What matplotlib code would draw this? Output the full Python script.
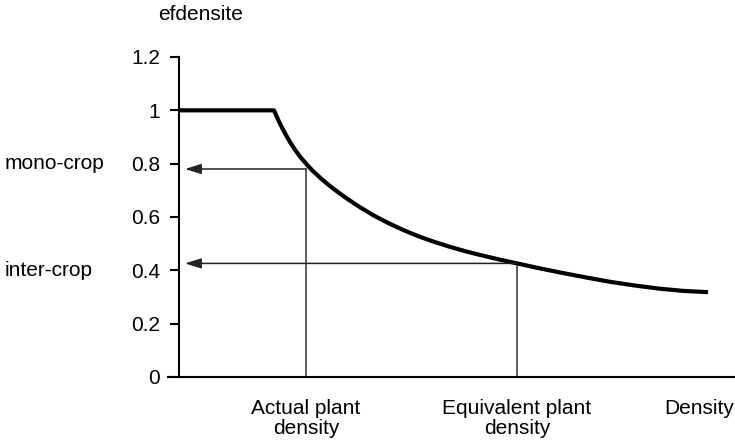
import matplotlib
matplotlib.use('Agg')
import matplotlib.pyplot as plt
import matplotlib.transforms as mtransforms

plt.rcParams['font.family'] = ['Liberation Sans', 'DejaVu Sans']

# efficiency curve read along the density axis (arbitrary density units)
density = [0.0, 0.95, 0.99, 1.03, 1.07, 1.11, 1.16, 1.22, 1.28, 1.34, 1.43, 1.53,
           1.66, 1.80, 1.95, 2.10, 2.25, 2.40, 2.55, 2.71, 2.88, 3.04, 3.21, 3.38,
           3.60, 3.81, 4.06, 4.31, 4.56, 4.81, 5.04, 5.29]
efdensite = [1.0, 1.0, 0.966, 0.935, 0.907, 0.881, 0.852, 0.822, 0.796, 0.772, 0.741, 0.710,
             0.674, 0.639, 0.605, 0.576, 0.550, 0.527, 0.507, 0.488, 0.470, 0.455, 0.440, 0.426,
             0.408, 0.392, 0.374, 0.357, 0.343, 0.331, 0.323, 0.318]

# the two reference densities and their efficiencies
ref_density = [1.27, 3.38]
ref_eff = [0.78, 0.426]
ref_names = ['Actual plant\ndensity', 'Equivalent plant\ndensity']
crop_names = ['mono-crop', 'inter-crop']

yticks = [0, 0.2, 0.4, 0.6, 0.8, 1.0, 1.2]
ytick_labels = ['0', '0.2', '0.4', '0.6', '0.8', '1', '1.2']

fig = plt.figure(figsize=(7.35, 4.45), dpi=100)
ax = fig.add_axes([168 / 735, 1 - 377 / 445, 567 / 735, 320 / 445])

ax.plot(density, efdensite, color='black', lw=3, solid_joinstyle='round',
        solid_capstyle='butt', zorder=3)

for x, y in zip(ref_density, ref_eff):
    ax.plot([x, x], [0, y], color='#333333', lw=1.1)
    ax.annotate('', xy=(0.06, y), xytext=(x, y),
                arrowprops=dict(arrowstyle='-|>,head_length=0.7,head_width=0.22',
                                color='#222222', lw=1.1, shrinkA=0, shrinkB=0,
                                mutation_scale=14))

ax.set_xlim(-0.11, 5.56)
ax.set_ylim(0, 1.2)

ax.spines['top'].set_visible(False)
ax.spines['right'].set_visible(False)
ax.spines['left'].set_position(('data', 0))
ax.spines['left'].set_linewidth(1.5)
ax.spines['bottom'].set_linewidth(1.5)

ax.set_xticks([])
ax.set_yticks(yticks)
ax.set_yticklabels(ytick_labels)
ax.tick_params(axis='y', direction='out', length=6.5, width=1.5, pad=7, labelsize=15)

trans = mtransforms.blended_transform_factory(ax.transData, fig.transFigure)
for x, name in zip(ref_density, ref_names):
    ax.text(x, 1 - 399 / 445, name, transform=trans, ha='center', va='top',
            fontsize=15, linespacing=1.1)
ax.text(5.20, 1 - 399 / 445, 'Density', transform=trans, ha='center', va='top', fontsize=15)

trans_y = mtransforms.blended_transform_factory(fig.transFigure, ax.transData)
for y, name in zip([0.8, 0.4], crop_names):
    ax.text(5 / 735, y, name, transform=trans_y, ha='left', va='center', fontsize=15)

fig.text(158 / 735, 1 - 15 / 445, 'efdensite', ha='left', va='center', fontsize=15)

fig.savefig('out.png', dpi=100)
